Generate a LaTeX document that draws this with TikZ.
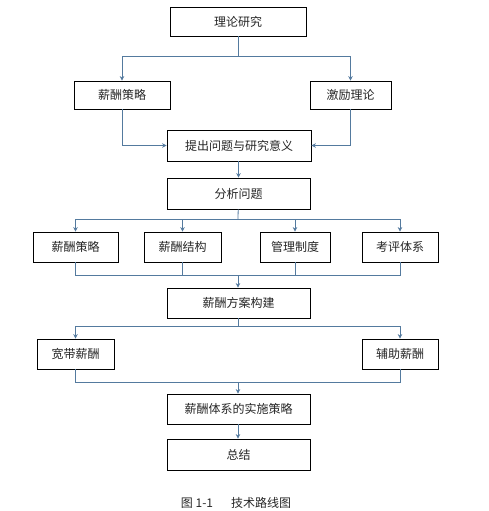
\documentclass[tikz,border=0pt]{standalone}
\usepackage{fontspec}
\setmainfont{Noto Sans CJK SC}
\usetikzlibrary{arrows.meta}
\definecolor{ln}{RGB}{84,122,158}
\tikzset{
  >={Stealth[length=4.5pt,width=4.5pt]},
  every node/.style={font=\fontsize{12}{14}\selectfont, text=black!85},
  box/.style={draw=black, line width=0.8pt, fill=white, minimum height=30pt, inner sep=0pt},
  wire/.style={ln, line width=0.8pt},
  arr/.style={wire, ->},
}
\begin{document}
\begin{tikzpicture}[x=1pt,y=-1pt]
\useasboundingbox (0,0) rectangle (488,511);

% ---------------------------------------------------------------- top: theory
\node[box, minimum width=136pt, minimum height=29pt] (theory) at (238,21.5) {理论研究};
\node[box, minimum width=96pt, minimum height=28pt] (salA) at (122,95) {薪酬策略};
\node[box, minimum width=81pt, minimum height=28pt] (motiv) at (350.5,95) {激励理论};
\node[box, minimum width=144pt, minimum height=31pt] (issue) at (239,145.5) {提出问题与研究意义};
\coordinate (j1) at (238,56);
\draw[wire] (theory) -- (j1);
\draw[arr] (j1) -| (salA.north);
\draw[arr] (j1) -| (motiv.north);
\draw[arr] (salA.south) |- (issue.west);
\draw[arr] (motiv.south) |- (issue.east);

% ---------------------------------------------------------------- middle: analysis
\node[box, minimum width=143pt, minimum height=31pt] (anal) at (238.5,193.5) {分析问题};
\draw[arr] (issue.south -| anal.north) -- (anal.north);
\foreach \n/\x/\w/\t in {r1/75.5/85/薪酬策略, r2/182.5/77/薪酬结构, r3/295/70/管理制度, r4/400/76/考评体系}
  \node[box, minimum width=\w pt] (\n) at (\x,247) {\t};
\node[box, minimum width=143pt] (plan) at (238.5,303) {薪酬方案构建};
\coordinate (j2) at (238,219);
\coordinate (j3) at (238,275);
\draw[wire] (anal) -- (j2);
\foreach \n in {r1,r2,r3,r4} {
  \draw[arr] (j2) -| (\n.north);
  \draw[wire] (\n.south) |- (j3);
}
\draw[arr] (j3) -- (plan.north -| j3);

% ---------------------------------------------------------------- bottom: implementation
\node[box, minimum width=77pt] (wide) at (75.5,354) {宽带薪酬};
\node[box, minimum width=76pt] (aux) at (400,354) {辅助薪酬};
\node[box, minimum width=143pt] (impl) at (238.5,409) {薪酬体系的实施策略};
\node[box, minimum width=143pt, minimum height=31pt] (sum) at (238.5,454.5) {总结};
\coordinate (j4) at (238,326);
\coordinate (j5) at (238,382);
\draw[wire] (plan.south -| j4) -- (j4);
\draw[arr] (j4) -| (wide.north);
\draw[arr] (j4) -| (aux.north);
\draw[wire] (wide.south) |- (j5);
\draw[wire] (aux.south) |- (j5);
\draw[arr] (j5) -- (impl.north -| j5);
\draw[arr] (impl.south -| j5) -- (sum.north -| j5);

\node (cap) at (236,503) {图 1-1\hspace{1.5em}技术路线图};
\end{tikzpicture}
\end{document}
